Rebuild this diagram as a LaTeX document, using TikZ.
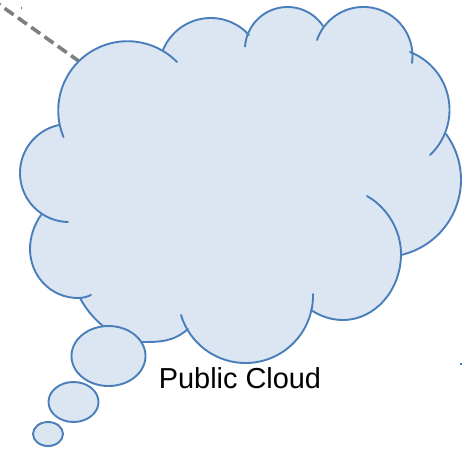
\documentclass[tikz,border=0pt]{standalone}
\usepackage{fontspec}
\usetikzlibrary{shapes.geometric}
\setmainfont{Liberation Sans}
\definecolor{cloudfill}{HTML}{DCE6F2}
\definecolor{cloudline}{HTML}{4A7EBB}
\definecolor{linkgray}{HTML}{7F7F7F}
\tikzset{
  lobe/.style={draw=cloudline,line width=1.9pt,line cap=round},
  body/.style={fill=cloudfill,draw=none},
  bubble/.style={fill=cloudfill,draw=cloudline,line width=1.9pt}
}
% circle through three points; defines \arcSpec<name> as a plot path
\newcommand{\defarc}[7]{%
  \pgfmathsetmacro{\bx}{(#4-#2)/100}\pgfmathsetmacro{\by}{(#5-#3)/100}%
  \pgfmathsetmacro{\qx}{(#6-#2)/100}\pgfmathsetmacro{\qy}{(#7-#3)/100}%
  \pgfmathsetmacro{\dd}{2*(\bx*\qy-\by*\qx)}%
  \pgfmathsetmacro{\bb}{\bx*\bx+\by*\by}\pgfmathsetmacro{\qq}{\qx*\qx+\qy*\qy}%
  \pgfmathsetmacro{\ux}{(\qy*\bb-\by*\qq)/\dd}\pgfmathsetmacro{\uy}{(\bx*\qq-\qx*\bb)/\dd}%
  \pgfmathsetmacro{\cx}{#2+100*\ux}\pgfmathsetmacro{\cy}{#3+100*\uy}%
  \pgfmathsetmacro{\rr}{100*sqrt(\ux*\ux+\uy*\uy)}%
  \pgfmathsetmacro{\aa}{atan2(#3-\cy,#2-\cx)}%
  \pgfmathsetmacro{\am}{atan2(#5-\cy,#4-\cx)}%
  \pgfmathsetmacro{\ae}{atan2(#7-\cy,#6-\cx)}%
  \pgfmathsetmacro{\dm}{mod(\am-\aa+720,360)}%
  \pgfmathsetmacro{\de}{mod(\ae-\aa+720,360)}%
  \pgfmathsetmacro{\endang}{\dm<\de ? \aa+\de : \aa+\de-360}%
  \expandafter\xdef\csname arcSpec#1\endcsname{plot[domain=\aa:\endang,samples=48] ({\cx+\rr*cos(\noexpand\x)},{\cy+\rr*sin(\noexpand\x)})}%
}
\defarc{A}{63.5}{137}{79}{61}{177}{62}
\defarc{B}{163}{50}{210}{18}{249}{35}
\defarc{C}{245}{46.5}{288}{7}{323}{26}
\defarc{D}{317}{40}{361}{7}{412}{63}
\defarc{E}{410}{52}{449.5}{110}{430}{155}
\defarc{F}{446}{134}{461}{180}{401}{255}
\defarc{H}{313}{294}{244}{363}{181}{315}
\defarc{J}{103}{326}{90}{313}{80}{298}
\defarc{L}{68}{222}{20}{173}{59}{125}
\expandafter\def\csname arcSpecG\endcsname{(367,196) .. controls (388,208) and (401,231) .. (401,254) .. controls (401,290) and (375,320) .. (343,320) .. controls (331,320) and (320,316) .. (311,310)}
\expandafter\def\csname arcSpecK\endcsname{(91,295) .. controls (87,297) and (82,298) .. (78,298) .. controls (51,298) and (30,276) .. (30,249) .. controls (30,237) and (34,225) .. (41,215)}
\expandafter\def\csname arcSpecI\endcsname{(141,342) .. controls (160,342) and (173,342) .. (188,329)}
\begin{document}
\begin{tikzpicture}[x=1pt,y=-1pt]
\useasboundingbox (0,0) rectangle (471,448);
\coordinate (linkstart) at (-2,3.6);
\coordinate (linkend) at (80,62);
\draw[linkgray,line width=3.6pt,dash pattern=on 11pt off 5.3pt] (linkend) -- (linkstart);
\fill[cloudline] (20.5,6.5) rectangle (22,8.5);
\fill[cloudline] (460,362.5) rectangle (462,364.5);
% cloud fill: interior polygon plus one cap per lobe
\path[fill=cloudfill,draw=cloudfill,line width=1pt] (59,125) -- (163,50) -- (248,35) -- (323,26) -- (410,52) -- (446,134) -- (401,255) -- (311,310) -- (188,329) -- (141,342) -- (103,326) -- (80,298) -- (41,216) -- cycle;
\foreach \n in {A,B,C,D,E,F,G,H,I,J,K,L}{
  \fill[body] \csname arcSpec\n\endcsname -- cycle;
}
% outline strokes
\foreach \n in {A,B,C,D,E,F,G,H,I,J,K,L}{
  \draw[lobe] \csname arcSpec\n\endcsname;
}
% thought bubbles
\node[bubble,shape=ellipse,minimum width=74pt,minimum height=60pt,inner sep=0pt] (bubbleA) at (108.5,356) {};
\node[bubble,shape=ellipse,minimum width=50pt,minimum height=40pt,inner sep=0pt] (bubbleB) at (73.5,402) {};
\node[bubble,shape=ellipse,minimum width=30pt,minimum height=24pt,inner sep=0pt] (bubbleC) at (48,434) {};
\node[font=\fontsize{28.9pt}{32pt}\selectfont,text=black,inner sep=0pt] (label) at (240,378) {Public Cloud};
\end{tikzpicture}
\end{document}
